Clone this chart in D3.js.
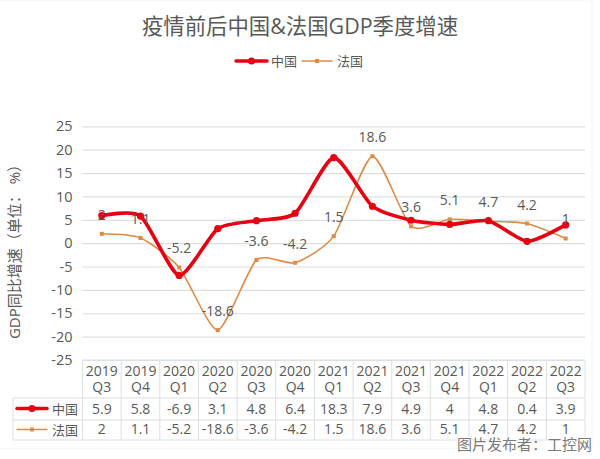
<!DOCTYPE html>
<html>
<head>
<meta charset="utf-8">
<script src="https://cdn.jsdelivr.net/npm/d3@7/dist/d3.min.js"></script>
<style>
  html, body { margin: 0; padding: 0; background: #fff; }
  svg { display: block; }
  text { font-family: "Open Sans", "Noto Sans CJK SC", sans-serif; fill: #595959; }
  .grid line { stroke: #dfdfdf; stroke-width: 1.2; }
  .grid text { font-size: 14.5px; }
  .cell { font-size: 14px; text-anchor: middle; }
  .rule { stroke: #dcdfe3; stroke-width: 1; }
</style>
</head>
<body>
<div id="chart"></div>
<script>
const years = ['2019', '2019', '2020', '2020', '2020', '2020', '2021', '2021', '2021', '2021', '2022', '2022', '2022'];
const quarters = ['Q3', 'Q4', 'Q1', 'Q2', 'Q3', 'Q4', 'Q1', 'Q2', 'Q3', 'Q4', 'Q1', 'Q2', 'Q3'];
const china = [5.9, 5.8, -6.9, 3.1, 4.8, 6.4, 18.3, 7.9, 4.9, 4, 4.8, 0.4, 3.9];
const france = [2, 1.1, -5.2, -18.6, -3.6, -4.2, 1.5, 18.6, 3.6, 5.1, 4.7, 4.2, 1];
const yTicks = [25, 20, 15, 10, 5, 0, -5, -10, -15, -20, -25];

const RED = '#e60012';
const ORANGE = '#e08a45';

const width = 600;
const height = 459;
const plot = { left: 82.5, right: 585, top: 126.3, bottom: 360 };
const tableRows = { header: 398, china: 420, france: 440 };
const keyLeft = 13;

const svg = d3.select('#chart').append('svg')
    .attr('width', width)
    .attr('height', height);

// faint card outline
svg.append('rect')
    .attr('x', -2).attr('y', 1)
    .attr('width', 594).attr('height', 448)
    .attr('fill', 'none')
    .attr('stroke', '#f5f5f5');

const indices = d3.range(quarters.length);

const xScale = d3.scaleBand()
    .domain(indices)
    .range([plot.left, plot.right]);

const yScale = d3.scaleLinear()
    .domain([-25, 25])
    .range([plot.bottom, plot.top]);

const cx = i => xScale(i) + (xScale.bandwidth() / 2);

const yAxis = d3.axisLeft(yScale)
    .tickValues(yTicks)
    .tickSize(-(plot.right - plot.left))
    .tickPadding(10)
    .tickFormat(d => d);

svg.append('g')
    .attr('class', 'grid')
    .attr('transform', `translate(${plot.left}, 0)`)
    .call(yAxis)
  .call(g => g.select('.domain').remove());

// title and legend
svg.append('text')
    .text('疫情前后中国&法国GDP季度增速')
    .attr('x', 300)
    .attr('y', 34)
    .attr('text-anchor', 'middle')
    .style('font-size', '21.4px');

svg.append('text')
    .text('GDP同比增速（单位： %）')
    .attr('transform', 'translate(20, 248) rotate(-90)')
    .attr('text-anchor', 'middle')
    .style('font-size', '15px');

function drawKey(x1, x2, y, color, lineWidth, markerSize) {
  svg.append('line')
      .attr('x1', x1).attr('x2', x2)
      .attr('y1', y).attr('y2', y)
      .attr('stroke', color)
      .attr('stroke-width', lineWidth)
      .attr('stroke-linecap', 'round');
  const mid = (x1 + x2) / 2;
  if (color === RED) {
    svg.append('circle')
        .attr('cx', mid).attr('cy', y).attr('r', markerSize)
        .attr('fill', color);
  } else {
    svg.append('rect')
        .attr('x', mid - markerSize).attr('y', y - markerSize)
        .attr('width', markerSize * 2).attr('height', markerSize * 2)
        .attr('fill', color);
  }
}

drawKey(236, 267, 61, RED, 3.5, 3.5);
drawKey(302, 332, 61, ORANGE, 1.5, 2);

svg.append('text').text('中国')
    .attr('x', 271).attr('y', 66)
    .style('font-size', '13px');
svg.append('text').text('法国')
    .attr('x', 337).attr('y', 66)
    .style('font-size', '13px');

// series
const line = d3.line()
    .x((d, i) => cx(i))
    .y(d => yScale(d))
    .curve(d3.curveCardinal.tension(0.35));

svg.append('path')
    .datum(france)
    .attr('d', line)
    .attr('fill', 'none')
    .attr('stroke', ORANGE)
    .attr('stroke-width', 1.6);

svg.selectAll('.france-point')
    .data(france)
  .enter().append('rect')
    .attr('class', 'france-point')
    .attr('x', (d, i) => cx(i) - 2)
    .attr('y', d => yScale(d) - 2)
    .attr('width', 4)
    .attr('height', 4)
    .attr('fill', ORANGE);

svg.append('path')
    .datum(china)
    .attr('d', line)
    .attr('fill', 'none')
    .attr('stroke', RED)
    .attr('stroke-width', 3.6);

svg.selectAll('.china-point')
    .data(china)
  .enter().append('circle')
    .attr('class', 'china-point')
    .attr('cx', (d, i) => cx(i))
    .attr('cy', d => yScale(d))
    .attr('r', 3.6)
    .attr('fill', RED);

// data labels sit above the france points
svg.selectAll('.france-label')
    .data(france)
  .enter().append('text')
    .attr('class', 'cell france-label')
    .text(d => d)
    .attr('x', (d, i) => cx(i))
    .attr('y', d => yScale(d) - 14);

// data table
const table = svg.append('g');

const hLines = [
  { y: plot.bottom, x1: plot.left },
  { y: tableRows.header, x1: keyLeft },
  { y: tableRows.china, x1: keyLeft },
  { y: tableRows.france, x1: keyLeft },
];
hLines.forEach((d) => {
  table.append('line')
      .attr('class', 'rule')
      .attr('x1', d.x1).attr('x2', plot.right)
      .attr('y1', d.y).attr('y2', d.y);
});

indices.concat(quarters.length).forEach((i) => {
  const x = i < quarters.length ? xScale(i) : plot.right;
  table.append('line')
      .attr('class', 'rule')
      .attr('x1', x).attr('x2', x)
      .attr('y1', plot.bottom).attr('y2', tableRows.france);
});
table.append('line')
    .attr('class', 'rule')
    .attr('x1', keyLeft).attr('x2', keyLeft)
    .attr('y1', tableRows.header).attr('y2', tableRows.france);

table.selectAll('.year')
    .data(years)
  .enter().append('text')
    .attr('class', 'cell year')
    .text(d => d)
    .attr('x', (d, i) => cx(i))
    .attr('y', 376);

table.selectAll('.quarter')
    .data(quarters)
  .enter().append('text')
    .attr('class', 'cell quarter')
    .text(d => d)
    .attr('x', (d, i) => cx(i))
    .attr('y', 392);

table.selectAll('.china-cell')
    .data(china)
  .enter().append('text')
    .attr('class', 'cell china-cell')
    .text(d => d)
    .attr('x', (d, i) => cx(i))
    .attr('y', 414);

table.selectAll('.france-cell')
    .data(france)
  .enter().append('text')
    .attr('class', 'cell france-cell')
    .text(d => d)
    .attr('x', (d, i) => cx(i))
    .attr('y', 434);

drawKey(17, 47, 408.5, RED, 3.5, 3.5);
drawKey(17, 47, 429.5, ORANGE, 1.5, 2);

svg.append('text').text('中国')
    .attr('x', 52).attr('y', 413.5)
    .style('font-size', '13px');
svg.append('text').text('法国')
    .attr('x', 52).attr('y', 434.5)
    .style('font-size', '13px');

// watermark
svg.append('text')
    .text('图片发布者：工控网')
    .attr('x', 592)
    .attr('y', 450)
    .attr('text-anchor', 'end')
    .style('font-size', '15px')
    .style('fill', '#7a7a7a')
    .style('paint-order', 'stroke')
    .style('stroke', '#fff')
    .style('stroke-width', '2px');
</script>
</body>
</html>
